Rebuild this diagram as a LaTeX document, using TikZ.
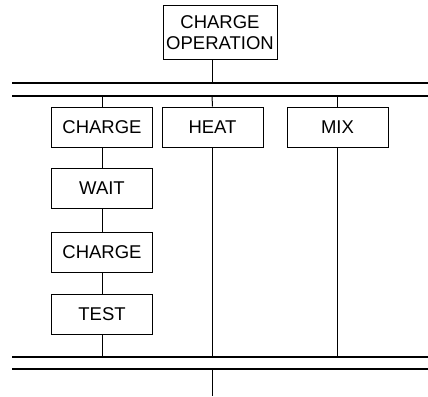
\documentclass[tikz,border=0pt]{standalone}
\usepackage{fontspec}
\setmainfont{Liberation Sans}
\begin{document}
\begin{tikzpicture}[x=1pt,y=-1pt,
  stepbox/.style={draw,line width=1pt,minimum width=101pt,minimum height=40pt,inner sep=0pt,font=\fontsize{18.5}{21}\selectfont},
  bar/.style={line width=1.4pt},
  link/.style={line width=1pt}]
\useasboundingbox (0,0) rectangle (428,396);
\node[stepbox,minimum width=114pt,minimum height=54pt,align=center] (op) at (220,33) {CHARGE\\OPERATION};
\coordinate (a1) at (12,83);  \coordinate (a2) at (428,83);
\coordinate (b1) at (12,96);  \coordinate (b2) at (428,96);
\coordinate (c1) at (12,357); \coordinate (c2) at (428,357);
\coordinate (d1) at (12,369); \coordinate (d2) at (428,369);
\coordinate (out) at (212,396);
\draw[bar] (a1) -- (a2);
\draw[bar] (b1) -- (b2);
\draw[bar] (c1) -- (c2);
\draw[bar] (d1) -- (d2);
\node[stepbox] (ch1) at (102,127) {CHARGE};
\node[stepbox] (wait) at (102,188) {WAIT};
\node[stepbox] (ch2) at (102,252.5) {CHARGE};
\node[stepbox] (test) at (102,314) {TEST};
\node[stepbox] (heat) at (212.5,127) {HEAT};
\node[stepbox] (mix) at (337.5,127) {MIX};
\draw[link] (op.south -| out) -- (a1 -| out);
\draw[link] (b1 -| ch1) -- (ch1.north);
\draw[link] (ch1) -- (wait);
\draw[link] (wait) -- (ch2);
\draw[link] (ch2) -- (test);
\draw[link] (test.south) -- (c1 -| test);
\draw[link] (b1 -| out) -- (heat.north);
\draw[link] (heat.south -| out) -- (c1 -| out);
\draw[link] (b1 -| mix) -- (mix.north);
\draw[link] (mix.south) -- (c1 -| mix);
\draw[link] (d1 -| out) -- (out);
\end{tikzpicture}
\end{document}
